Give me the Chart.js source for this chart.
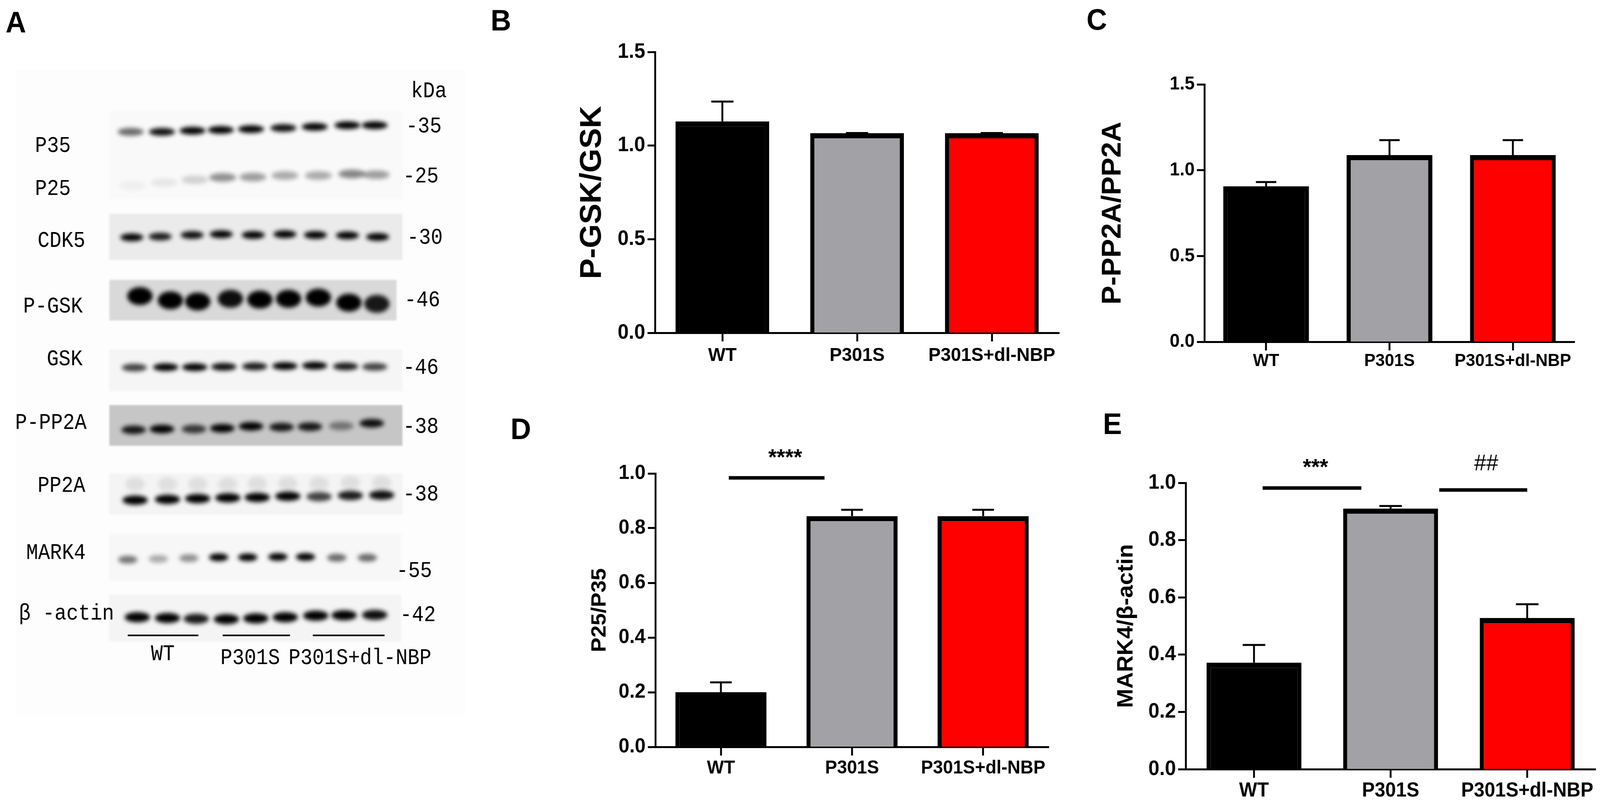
<!DOCTYPE html>
<html>
<head>
<meta charset="utf-8">
<script src="https://cdn.jsdelivr.net/npm/chart.js@4"></script>
<style>
  html, body { margin: 0; padding: 0; background: #fff; overflow: hidden; }
  #figure { position: absolute; left: 0; top: 0; width: 4275px; height: 2053px; overflow: hidden; transform-origin: 0 0; }
  canvas { position: absolute; display: block; }
  .letter { position: absolute; font: bold 76px/1 "Liberation Sans", sans-serif; color: #000; }
</style>
</head>
<body>
<div id="figure">
<canvas id="panel-a" style="left:0;top:0" width="1300" height="2053"></canvas>
<canvas id="panel-b" style="left:1500px;top:90px" width="1350" height="870"></canvas>
<canvas id="panel-c" style="left:2900px;top:170px" width="1325" height="805"></canvas>
<canvas id="panel-d" style="left:1500px;top:1100px" width="1320" height="915"></canvas>
<canvas id="panel-e" style="left:2950px;top:1130px" width="1325" height="923"></canvas>
<div class="letter" style="left:15px;top:19px">A</div>
<div class="letter" style="left:1311px;top:14px">B</div>
<div class="letter" style="left:2903px;top:12px">C</div>
<div class="letter" style="left:1364px;top:1060px">D</div>
<div class="letter" style="left:2947px;top:1047px">E</div>
</div>
<script>
// the browser window stops at 4096 wide, so squeeze the 4275 wide figure into it
document.querySelector("#figure").style.transform = `scaleX(${window.innerWidth / 4275})`;

const groups = ["WT", "P301S", "P301S+dl-NBP"];
const barFills = ["#000000", "#a2a1a5", "#ff0000"];

const ticksB = [0, 0.5, 1, 1.5];
const valuesB = [1.129, 1.066, 1.066];
const errorsB = [1.235, 1.067, 1.067];

const ticksC = [0, 0.5, 1, 1.5];
const valuesC = [0.906, 1.088, 1.088];
const errorsC = [0.931, 1.175, 1.175];

const ticksD = [0, 0.2, 0.4, 0.6, 0.8, 1];
const valuesD = [0.2, 0.844, 0.844];
const errorsD = [0.236, 0.867, 0.867];
const sigD = [{ from: 0.06, to: 0.79, level: 0.984, text: "****", textAt: 0.49, textLevel: 1.054 }];

const ticksE = [0, 0.2, 0.4, 0.6, 0.8, 1];
const valuesE = [0.372, 0.91, 0.528];
const errorsE = [0.434, 0.919, 0.576];
const sigE = [
  { from: 0.063, to: 0.786, level: 0.982, text: "***", textAt: 0.45, textLevel: 1.051 },
  { from: 1.356, to: 2.0, level: 0.975, text: "##", textAt: 1.7, textLevel: 1.066, regular: true }
];

// western blot: band centre x, band centre y, darkness
const xP35 = [344, 429, 512, 589, 671, 759, 844, 933, 1007];
const yP35 = [330, 330, 327, 325, 323, 320, 317, 313, 313];
const darkP35 = [0.55, 0.9, 0.95, 1, 1, 0.9, 0.95, 1, 1];
const xP25 = [348, 435, 518, 594, 676, 763, 854, 945, 1011];
const yP25 = [469, 461, 454, 448, 447, 443, 443, 439, 441];
const darkP25 = [0.04, 0.07, 0.15, 0.4, 0.35, 0.3, 0.3, 0.45, 0.35];
const xCDK5 = [347, 424, 511, 590, 677, 763, 846, 933, 1015];
const yCDK5 = [603, 601, 597, 595, 597, 595, 597, 598, 602];
const darkCDK5 = [0.95, 0.85, 0.9, 0.95, 0.95, 1, 1, 1, 0.95];
const xPGSK = [369, 452, 526, 615, 695, 773, 854, 937, 1013];
const yPGSK = [755, 766, 769, 762, 764, 762, 759, 772, 775];
const darkPGSK = [1, 1, 0.95, 0.9, 1, 0.95, 1, 1, 0.85];
const xGSK = [354, 439, 518, 597, 681, 763, 844, 928, 1007];
const yGSK = [940, 939, 939, 938, 937, 936, 935, 937, 938];
const darkGSK = [0.7, 1, 1, 0.9, 0.85, 0.95, 1, 0.85, 0.7];
const xPPP2A = [352, 429, 516, 593, 671, 754, 831, 916, 999];
const yPPP2A = [1101, 1099, 1099, 1097, 1092, 1094, 1093, 1091, 1084];
const darkPPP2A = [0.85, 1, 0.7, 1, 1, 0.85, 0.85, 0.4, 0.9];
const xPP2A = [356, 444, 526, 608, 688, 771, 856, 941, 1026];
const yPP2A = [1283, 1281, 1279, 1277, 1276, 1273, 1274, 1271, 1270];
const darkPP2A = [1, 1, 1, 1, 1, 0.95, 0.7, 0.85, 0.9];
const yPP2AGhost = [1242, 1242, 1242, 1242, 1240, 1240, 1240, 1238, 1238];
const darkPP2AGhost = [0.08, 0.08, 0.08, 0.08, 0.08, 0.08, 0.08, 0.08, 0.08];
const xMARK4 = [336, 419, 502, 583, 662, 744, 819, 904, 987];
const yMARK4 = [1437, 1435, 1433, 1431, 1431, 1430, 1430, 1432, 1432];
const darkMARK4 = [0.5, 0.3, 0.4, 1, 1, 1, 1, 0.55, 0.55];
const xActin = [362, 444, 522, 604, 684, 764, 847, 924, 1007];
const yActin = [1586, 1588, 1590, 1591, 1589, 1586, 1582, 1581, 1580];
const darkActin = [0.95, 1, 0.85, 1, 0.95, 0.95, 1, 1, 0.9];

const blotRows = [
  [xP35, yP35, darkP35, 70, 20],
  [xP25, yP25, darkP25, 72, 22],
  [xCDK5, yCDK5, darkCDK5, 62, 20],
  [xPGSK, yPGSK, darkPGSK, 68, 46],
  [xGSK, yGSK, darkGSK, 68, 20],
  [xPPP2A, yPPP2A, darkPPP2A, 66, 22],
  [xPP2A, yPP2AGhost, darkPP2AGhost, 52, 36],
  [xPP2A, yPP2A, darkPP2A, 68, 24],
  [xMARK4, yMARK4, darkMARK4, 52, 20],
  [xActin, yActin, darkActin, 68, 26]
];

// left, top, right, bottom, shade of each membrane strip
const blotStrips = [
  [286, 278, 1069, 501, "#f9f9f9"],
  [286, 542, 1069, 660, "#ebebeb"],
  [286, 713, 1053, 817, "#d9d9d9"],
  [286, 893, 1069, 1000, "#f5f5f5"],
  [286, 1037, 1069, 1141, "#c6c6c6"],
  [286, 1214, 1069, 1319, "#f4f4f4"],
  [286, 1369, 1065, 1490, "#f7f7f7"],
  [286, 1527, 1065, 1648, "#f4f4f4"]
];
const blotGroupLines = [[336, 528], [594, 777], [839, 1034]];

// text, left, centre y
const blotLabels = [
  ["P35", 90, 367], ["P25", 90, 478], ["CDK5", 97, 612], ["P-GSK", 58, 782], ["GSK", 122, 919],
  ["P-PP2A", 36, 1084], ["PP2A", 97, 1246], ["MARK4", 66, 1420], ["β -actin", 46, 1577],
  ["WT", 405, 1682], ["P301S", 594, 1692], ["P301S+dl-NBP", 779, 1692], ["kDa", 1112, 225]
];
const kdaMarks = [
  ["-35", 1098, 316], ["-25", 1090, 446], ["-30", 1101, 604], ["-46", 1094, 766], ["-46", 1090, 941],
  ["-38", 1090, 1094], ["-38", 1090, 1269], ["-55", 1072, 1467], ["-42", 1082, 1581]
];

function bandSprite(dark, w, h) {
  const sprite = document.createElement("canvas");
  sprite.width = w + 60;
  sprite.height = h + 60;
  const c = sprite.getContext("2d");
  c.filter = "blur(6px)";
  c.fillStyle = `rgba(0,0,0,${Math.min(1, dark * 1.05)})`;
  c.beginPath();
  c.ellipse(sprite.width / 2, sprite.height / 2, w / 2, h / 2, 0, 0, Math.PI * 2);
  c.fill();
  return sprite;
}

const blotPlugin = {
  id: "blot",
  beforeDatasetsDraw(chart) {
    const { ctx, scales: { x, y } } = chart;
    ctx.save();
    ctx.fillStyle = "#fefdfd";
    ctx.fillRect(x.getPixelForValue(31), y.getPixelForValue(169), 1204, 1654);
    ctx.filter = "blur(2px)";
    blotStrips.forEach(([l, t, r, b, shade]) => {
      ctx.fillStyle = shade;
      ctx.fillRect(x.getPixelForValue(l), y.getPixelForValue(t), r - l, b - t);
    });
    ctx.restore();
  },
  afterDatasetsDraw(chart) {
    const { ctx, scales: { x, y } } = chart;
    ctx.save();
    ctx.strokeStyle = "#000";
    ctx.lineWidth = 4;
    blotGroupLines.forEach(([from, to]) => {
      ctx.beginPath();
      ctx.moveTo(x.getPixelForValue(from), y.getPixelForValue(1633));
      ctx.lineTo(x.getPixelForValue(to), y.getPixelForValue(1633));
      ctx.stroke();
    });
    ctx.fillStyle = "#000";
    ctx.font = '57px "Liberation Mono", monospace';
    ctx.textBaseline = "middle";
    ctx.textAlign = "left";
    blotLabels.concat(kdaMarks).forEach(([text, left, mid]) => {
      ctx.save();
      ctx.translate(x.getPixelForValue(left - 6), y.getPixelForValue(mid));
      ctx.scale(0.93, 1);
      ctx.fillText(text, 0, 0);
      ctx.restore();
    });
    ctx.restore();
  }
};

new Chart(document.querySelector("#panel-a"), {
  type: "scatter",
  data: {
    datasets: blotRows.map(([xs, ys, darks, w, h]) => ({
      data: xs.map((v, i) => ({ x: v, y: ys[i] })),
      pointStyle: darks.map((d) => bandSprite(d, w, h)),
      pointRadius: 10
    }))
  },
  options: {
    responsive: false,
    animation: false,
    devicePixelRatio: 1,
    layout: { padding: 0 },
    plugins: { legend: { display: false }, tooltip: { enabled: false } },
    scales: {
      x: { display: false, min: 0, max: 1300 },
      y: { display: false, min: 0, max: 2053, reverse: true }
    }
  },
  plugins: [blotPlugin]
});

const whiskerPlugin = {
  id: "whiskers",
  beforeDatasetsDraw(chart, args, opts) {
    const { ctx, scales: { x, y } } = chart;
    const bars = chart.getDatasetMeta(0).data;
    const capWidth = 0.165 * (x.getPixelForValue(1) - x.getPixelForValue(0));
    ctx.save();
    ctx.strokeStyle = "#000";
    ctx.lineWidth = 5;
    opts.errors.forEach((top, i) => {
      const px = bars[i].x;
      const py = y.getPixelForValue(top);
      ctx.beginPath();
      ctx.moveTo(px, bars[i].y);
      ctx.lineTo(px, py);
      ctx.moveTo(px - capWidth / 2, py);
      ctx.lineTo(px + capWidth / 2, py);
      ctx.stroke();
    });
    ctx.restore();
  },
  afterDatasetsDraw(chart, args, opts) {
    const { ctx, scales: { x, y } } = chart;
    ctx.save();
    ctx.fillStyle = "#000";
    ctx.strokeStyle = "#000";
    ctx.textAlign = "center";
    ctx.textBaseline = "middle";
    (opts.sig || []).forEach((s) => {
      ctx.lineWidth = 9;
      ctx.beginPath();
      ctx.moveTo(x.getPixelForValue(s.from), y.getPixelForValue(s.level));
      ctx.lineTo(x.getPixelForValue(s.to), y.getPixelForValue(s.level));
      ctx.stroke();
      ctx.font = `${s.regular ? "" : "bold "}58px "Liberation Sans", sans-serif`;
      ctx.fillText(s.text, x.getPixelForValue(s.textAt), y.getPixelForValue(s.textLevel));
    });
    ctx.restore();
  }
};

function barPanel(id, cfg) {
  const canvas = document.querySelector(id);
  const yWidth = cfg.axisX - parseInt(canvas.style.left);
  const xHeight = canvas.height - (cfg.zero - parseInt(canvas.style.top));
  new Chart(canvas, {
    type: "bar",
    data: {
      labels: groups,
      datasets: [{
        data: cfg.values,
        backgroundColor: barFills,
        borderColor: "#000",
        borderWidth: { top: 13, left: 11, right: 11, bottom: 0 },
        categoryPercentage: 1,
        barPercentage: 0.695
      }]
    },
    options: {
      responsive: false,
      animation: false,
      devicePixelRatio: 1,
      layout: {
        padding: {
          top: cfg.axisTop - parseInt(canvas.style.top),
          right: canvas.width - (cfg.axisRight - parseInt(canvas.style.left)),
          left: 0,
          bottom: 0
        }
      },
      plugins: {
        legend: { display: false },
        tooltip: { enabled: false },
        whiskers: { errors: cfg.errors, sig: cfg.sig }
      },
      scales: {
        x: {
          afterFit: (s) => { s.height = xHeight; },
          border: { display: true, width: 5, color: "#000" },
          grid: { offset: false, drawOnChartArea: false, tickLength: 22, tickWidth: 5, tickColor: "#000" },
          ticks: {
            color: "#000",
            autoSkip: false,
            maxRotation: 0,
            padding: cfg.xPad,
            font: { family: "Liberation Sans", weight: "bold", size: cfg.xFont, lineHeight: 1 }
          }
        },
        y: {
          min: 0,
          max: cfg.ticks[cfg.ticks.length - 1],
          afterFit: (s) => { s.width = yWidth; },
          afterBuildTicks: (s) => { s.ticks = cfg.ticks.map((v) => ({ value: v })); },
          border: { display: true, width: 5, color: "#000" },
          grid: { drawOnChartArea: false, tickLength: 20, tickWidth: 5, tickColor: "#000" },
          ticks: {
            color: "#000",
            padding: 6,
            callback: (v) => v.toFixed(1),
            font: { family: "Liberation Sans", weight: "bold", size: cfg.yFont, lineHeight: 1 }
          },
          title: {
            display: true,
            text: cfg.title,
            color: "#000",
            padding: { top: cfg.titleX - parseInt(canvas.style.left) - cfg.titleFont / 2, bottom: 0 },
            font: { family: "Liberation Sans", weight: "bold", size: cfg.titleFont, lineHeight: 1 }
          }
        }
      }
    },
    plugins: [whiskerPlugin]
  });
}

barPanel("#panel-b", {
  values: valuesB, errors: errorsB, ticks: ticksB, title: "P-GSK/GSK",
  axisX: 1750, axisTop: 133, zero: 852, axisRight: 2830,
  titleX: 1583, titleFont: 79, yFont: 53, xFont: 49, xPad: 12
});
barPanel("#panel-c", {
  values: valuesC, errors: errorsC, ticks: ticksC, title: "P-PP2A/PP2A",
  axisX: 3218, axisTop: 216, zero: 875, axisRight: 4207,
  titleX: 2974, titleFont: 72, yFont: 48, xFont: 45, xPad: 5
});
barPanel("#panel-d", {
  values: valuesD, errors: errorsD, ticks: ticksD, sig: sigD, title: "P25/P35",
  axisX: 1751, axisTop: 1212, zero: 1912, axisRight: 2802,
  titleX: 1603, titleFont: 56, yFont: 52, xFont: 48, xPad: 9
});
barPanel("#panel-e", {
  values: valuesE, errors: errorsE, ticks: ticksE, sig: sigE, title: "MARK4/β-actin",
  axisX: 3168, axisTop: 1236, zero: 1969, axisRight: 4263,
  titleX: 3010, titleFont: 59, yFont: 53, xFont: 51, xPad: 8
});
</script>
</body>
</html>
